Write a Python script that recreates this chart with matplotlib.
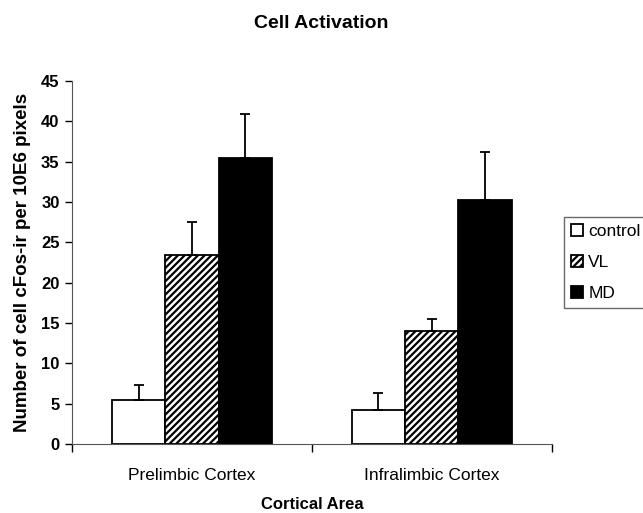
import matplotlib.pyplot as plt
import numpy as np

plt.rcParams['font.family'] = ['Liberation Sans', 'DejaVu Sans']
plt.rcParams['hatch.linewidth'] = 1.6

areas = ["Prelimbic Cortex", "Infralimbic Cortex"]
groups = ["control", "VL", "MD"]
means = {
    "control": [5.45, 4.2],
    "VL": [23.4, 14.0],
    "MD": [35.5, 30.3],
}
errs = {
    "control": [1.85, 2.1],
    "VL": [4.1, 1.5],
    "MD": [5.4, 5.9],
}
colors = {"control": "white", "VL": "white", "MD": "black"}
hatches = {"control": None, "VL": "/////", "MD": None}

fig = plt.figure(figsize=(6.43, 5.13), dpi=100)
ax = fig.add_axes([0.112, 0.1345, 0.746, 0.7076])

x = np.arange(len(areas))
w = 2 / 9
for i, g in enumerate(groups):
    pos = x + (i - 1) * w
    ax.bar(pos, means[g], width=w, color=colors[g], edgecolor="black",
           hatch=hatches[g], linewidth=1.3, label=g, zorder=2)
    ax.errorbar(pos, means[g], yerr=[np.zeros(len(areas)), errs[g]],
                fmt="none", ecolor="black", elinewidth=1.3, capsize=3.8,
                capthick=1.3, zorder=3)

ax.set_xlim(-0.5, 1.5)
ax.set_ylim(0, 45)
ax.set_yticks(range(0, 46, 5))
ax.set_xticks([-0.5, 0.5, 1.5], minor=False)
ax.set_xticklabels([])
ax.set_xticks(x, minor=True)
ax.set_xticklabels(areas, minor=True, fontsize=12.5)
ax.tick_params(axis="x", which="minor", length=0, pad=17)
ax.tick_params(axis="x", which="major", length=6, direction="out", width=1)
ax.tick_params(axis="y", length=5, width=1, labelsize=12, pad=4)
for lab in ax.get_yticklabels():
    lab.set_fontweight("bold")
ax.spines["top"].set_visible(False)
ax.spines["right"].set_visible(False)
ax.spines["left"].set_color("#555555")
ax.spines["bottom"].set_color("#555555")

ax.set_ylabel("Number of cell cFos-ir per 10E6 pixels", fontsize=13.5,
              fontweight="bold", labelpad=7)
ax.set_xlabel("Cortical Area", fontsize=12, fontweight="bold", labelpad=10)
fig.text(0.5, 0.955, "Cell Activation", ha="center", va="center",
         fontsize=14, fontweight="bold")

leg = ax.legend(loc="center left", bbox_to_anchor=(1.015, 0.5), fontsize=12.5,
                frameon=True, fancybox=False, edgecolor="#444444",
                handlelength=0.7, handleheight=0.7, handletextpad=0.3,
                borderpad=0.4, labelspacing=0.9, borderaxespad=0.3)
leg.get_frame().set_linewidth(1.0)

fig.savefig("out.png", dpi=100)
